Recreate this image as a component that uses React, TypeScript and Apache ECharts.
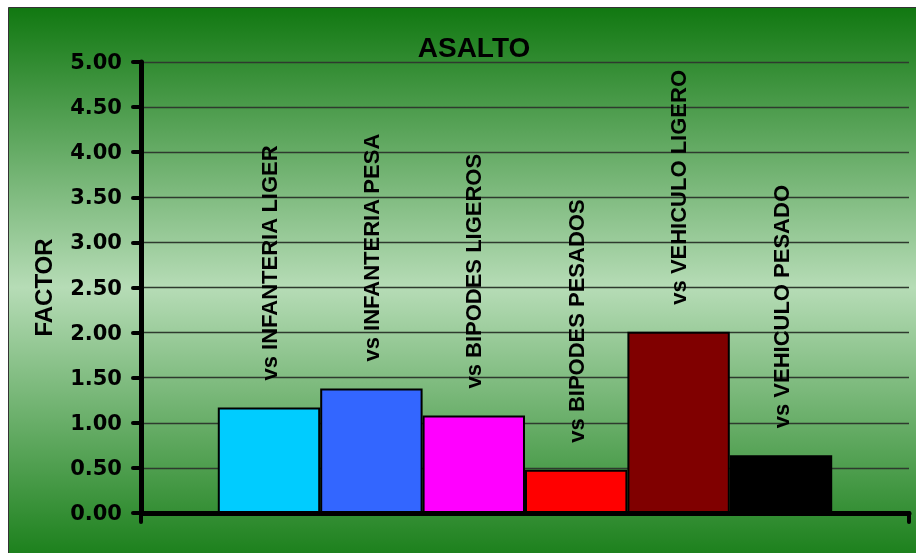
import React, { useEffect, useRef } from "react";
import * as echarts from "echarts";

const titleText = "ASALTO";
const yAxisName = "FACTOR";
const categories = [""];
const seriesNames = [
  "vs INFANTERIA LIGERA",
  "vs INFANTERIA PESADA",
  "vs BIPODES LIGEROS",
  "vs BIPODES PESADOS",
  "vs VEHICULO LIGERO",
  "vs VEHICULO PESADO",
];
const values = [1.17, 1.38, 1.08, 0.48, 2.01, 0.64];
const barColors = ["#00ccff", "#3366ff", "#ff00ff", "#ff0000", "#800000", "#000000"];
const yMin = 0;
const yMax = 5;
const yStep = 0.5;

const W = 912;
const H = 550;

export default function App() {
  const ref = useRef<HTMLDivElement>(null);
  useEffect(() => {
    if (!ref.current) return;
    const chart = echarts.init(ref.current, null, { renderer: "svg" });
    const option = {
      animation: false,
      graphic: [
        {
          type: "rect",
          z: -100,
          silent: true,
          shape: { x: 0.5, y: 0.5, width: W + 10, height: H + 10 },
          style: {
            fill: new echarts.graphic.LinearGradient(0, 0, 0, 1, [
              { offset: 0, color: "#117811" },
              { offset: 0.5, color: "#b6dcb6" },
              { offset: 1, color: "#157c15" },
            ]),
            stroke: "#333333",
            lineWidth: 1,
          },
        },
      ],
      title: {
        text: titleText,
        left: 461,
        top: 21,
        textAlign: "center",
        textStyle: {
          fontFamily: "Liberation Sans, Arial, sans-serif",
          fontWeight: "bold",
          fontSize: 28,
          color: "#000",
        },
      },
      grid: { left: 133, right: 11, top: 55, bottom: 44, containLabel: false },
      xAxis: {
        type: "category",
        data: categories,
        axisLine: { show: true, lineStyle: { color: "#000", width: 5 } },
        axisTick: { show: true, length: 9, lineStyle: { color: "#000", width: 4, cap: "round" } },
        axisLabel: { show: false },
        splitLine: { show: false },
      },
      yAxis: {
        type: "value",
        min: yMin,
        max: yMax,
        interval: yStep,
        name: yAxisName,
        nameLocation: "middle",
        nameRotate: 90,
        nameGap: 86,
        nameTextStyle: {
          fontFamily: "Liberation Sans, Arial, sans-serif",
          fontWeight: "bold",
          fontSize: 24,
          color: "#000",
        },
        axisLine: { show: true, lineStyle: { color: "#000", width: 5 } },
        axisTick: { show: true, inside: false, length: 8, lineStyle: { color: "#000", width: 4, cap: "round" } },
        axisLabel: {
          margin: 19,
          formatter: (v: number) => v.toFixed(2),
          fontFamily: "DejaVu Sans, sans-serif",
          fontWeight: "bold",
          fontSize: 21,
          color: "#000",
        },
        splitLine: { show: true, lineStyle: { color: "#2e3a2e", width: 1.3 } },
      },
      series: seriesNames.map((name, i) => ({
        type: "bar",
        name,
        data: [values[i]],
        barGap: "0%",
        barCategoryGap: "20%",
        itemStyle: { color: barColors[i], borderColor: "#000", borderWidth: 2 },
        label: {
          show: true,
          position: "top",
          distance: 27,
          rotate: 90,
          align: "left",
          verticalAlign: "middle",
          formatter: "{a}",
          width: 248,
          overflow: "truncate",
          ellipsis: "",
          fontFamily: "Liberation Sans, Arial, sans-serif",
          fontWeight: "bold",
          fontSize: 22,
          color: "#000",
        },
      })),
    };
    chart.setOption(option as any);
    return () => chart.dispose();
  }, []);
  return (
    <div
      ref={ref}
      style={{ position: "fixed", left: 8, top: 7, width: W, height: H }}
    />
  );
}
